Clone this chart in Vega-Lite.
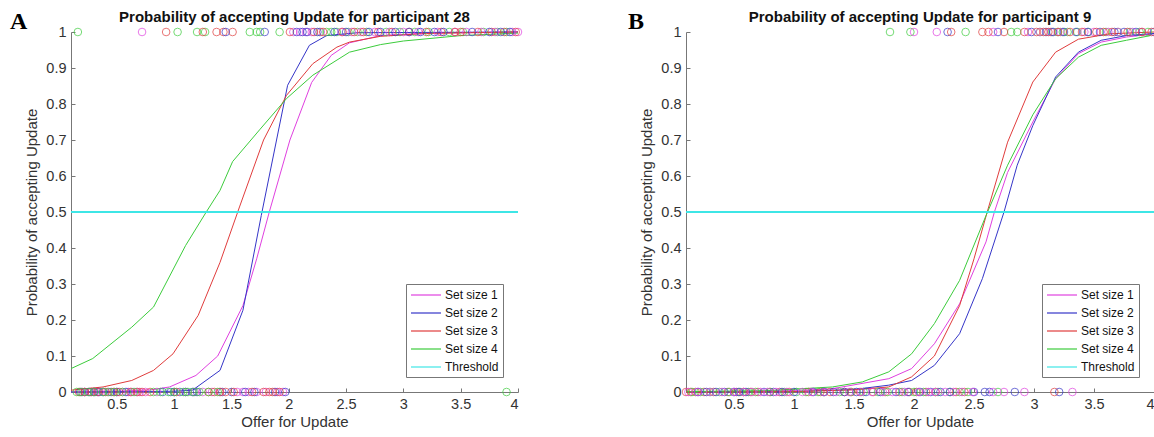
{
  "$schema": "https://vega.github.io/schema/vega-lite/v6.json",
  "autosize": {"type": "pad"},
  "padding": {"left": 10, "top": 10, "right": 0, "bottom": 0},
  "background": "white",
  "config": {
    "view": {"stroke": null},
    "font": "Liberation Sans",
    "axis": {
      "labelFont": "Liberation Sans", "labelFontSize": 14.5, "labelColor": "#333", "labelOverlap": false,
      "titleFont": "Liberation Sans", "titleFontSize": 15, "titleFontWeight": "normal", "titleColor": "#333",
      "domainColor": "#777", "tickColor": "#777", "tickSize": -4, "labelPadding": 9, "grid": false
    },
    "legend": {
      "orient": "bottom-right", "offset": 15, "title": null,
      "symbolType": "M-1,0H4", "symbolSize": 144, "symbolStrokeWidth": 1.2,
      "labelFont": "Liberation Sans", "labelFontSize": 12, "labelColor": "#111", "labelOffset": 21,
      "strokeColor": "#777", "fillColor": "white", "padding": 4, "rowPadding": 5, "cornerRadius": 0
    }
  },
  "datasets": {
    "curvesA": [
      {"set": "Set size 1", "x": 0.1, "p": 0.0}, {"set": "Set size 1", "x": 0.5, "p": 0.002}, {"set": "Set size 1", "x": 0.8, "p": 0.006}, {"set": "Set size 1", "x": 0.96, "p": 0.014}, {"set": "Set size 1", "x": 1.19, "p": 0.046}, {"set": "Set size 1", "x": 1.38, "p": 0.1}, {"set": "Set size 1", "x": 1.6, "p": 0.24}, {"set": "Set size 1", "x": 1.72, "p": 0.37}, {"set": "Set size 1", "x": 1.83, "p": 0.5}, {"set": "Set size 1", "x": 2.01, "p": 0.7}, {"set": "Set size 1", "x": 2.2, "p": 0.86}, {"set": "Set size 1", "x": 2.37, "p": 0.935}, {"set": "Set size 1", "x": 2.53, "p": 0.97}, {"set": "Set size 1", "x": 2.8, "p": 0.99}, {"set": "Set size 1", "x": 3.2, "p": 0.997}, {"set": "Set size 1", "x": 4.0, "p": 1.0},
      {"set": "Set size 2", "x": 0.1, "p": 0.0}, {"set": "Set size 2", "x": 1.0, "p": 0.002}, {"set": "Set size 2", "x": 1.16, "p": 0.005}, {"set": "Set size 2", "x": 1.4, "p": 0.06}, {"set": "Set size 2", "x": 1.6, "p": 0.227}, {"set": "Set size 2", "x": 1.76, "p": 0.49}, {"set": "Set size 2", "x": 1.99, "p": 0.852}, {"set": "Set size 2", "x": 2.18, "p": 0.963}, {"set": "Set size 2", "x": 2.33, "p": 0.99}, {"set": "Set size 2", "x": 2.6, "p": 0.998}, {"set": "Set size 2", "x": 4.0, "p": 1.0},
      {"set": "Set size 3", "x": 0.1, "p": 0.005}, {"set": "Set size 3", "x": 0.38, "p": 0.014}, {"set": "Set size 3", "x": 0.63, "p": 0.032}, {"set": "Set size 3", "x": 0.82, "p": 0.06}, {"set": "Set size 3", "x": 0.99, "p": 0.106}, {"set": "Set size 3", "x": 1.21, "p": 0.213}, {"set": "Set size 3", "x": 1.4, "p": 0.36}, {"set": "Set size 3", "x": 1.57, "p": 0.514}, {"set": "Set size 3", "x": 1.78, "p": 0.7}, {"set": "Set size 3", "x": 1.98, "p": 0.824}, {"set": "Set size 3", "x": 2.21, "p": 0.912}, {"set": "Set size 3", "x": 2.42, "p": 0.958}, {"set": "Set size 3", "x": 2.53, "p": 0.972}, {"set": "Set size 3", "x": 2.8, "p": 0.988}, {"set": "Set size 3", "x": 3.2, "p": 0.996}, {"set": "Set size 3", "x": 4.0, "p": 1.0},
      {"set": "Set size 4", "x": 0.1, "p": 0.065}, {"set": "Set size 4", "x": 0.29, "p": 0.093}, {"set": "Set size 4", "x": 0.63, "p": 0.18}, {"set": "Set size 4", "x": 0.82, "p": 0.236}, {"set": "Set size 4", "x": 1.1, "p": 0.407}, {"set": "Set size 4", "x": 1.28, "p": 0.5}, {"set": "Set size 4", "x": 1.4, "p": 0.56}, {"set": "Set size 4", "x": 1.51, "p": 0.64}, {"set": "Set size 4", "x": 1.75, "p": 0.73}, {"set": "Set size 4", "x": 1.98, "p": 0.815}, {"set": "Set size 4", "x": 2.21, "p": 0.88}, {"set": "Set size 4", "x": 2.53, "p": 0.944}, {"set": "Set size 4", "x": 2.8, "p": 0.965}, {"set": "Set size 4", "x": 3.0, "p": 0.975}, {"set": "Set size 4", "x": 3.5, "p": 0.99}, {"set": "Set size 4", "x": 4.0, "p": 0.997},
      {"set": "Threshold", "x": 0.1, "p": 0.5}, {"set": "Threshold", "x": 4.0, "p": 0.5}
    ],
    "pointsA": [
      {"set": "Set size 4", "x": 0.16, "p": 1}, {"set": "Set size 4", "x": 1.03, "p": 1}, {"set": "Set size 4", "x": 1.2, "p": 1}, {"set": "Set size 4", "x": 1.27, "p": 1}, {"set": "Set size 4", "x": 1.66, "p": 1}, {"set": "Set size 4", "x": 1.72, "p": 1}, {"set": "Set size 4", "x": 1.75, "p": 1}, {"set": "Set size 4", "x": 1.92, "p": 1}, {"set": "Set size 4", "x": 2.27, "p": 1}, {"set": "Set size 4", "x": 2.33, "p": 1}, {"set": "Set size 4", "x": 2.37, "p": 1}, {"set": "Set size 4", "x": 2.42, "p": 1}, {"set": "Set size 4", "x": 2.52, "p": 1}, {"set": "Set size 4", "x": 2.6, "p": 1}, {"set": "Set size 4", "x": 2.68, "p": 1}, {"set": "Set size 4", "x": 2.85, "p": 1}, {"set": "Set size 4", "x": 2.97, "p": 1}, {"set": "Set size 4", "x": 3.1, "p": 1}, {"set": "Set size 4", "x": 3.22, "p": 1}, {"set": "Set size 4", "x": 3.4, "p": 1}, {"set": "Set size 4", "x": 3.52, "p": 1}, {"set": "Set size 4", "x": 3.7, "p": 1}, {"set": "Set size 4", "x": 3.82, "p": 1}, {"set": "Set size 4", "x": 3.9, "p": 1},
      {"set": "Set size 1", "x": 0.72, "p": 1}, {"set": "Set size 1", "x": 2.04, "p": 1}, {"set": "Set size 1", "x": 2.1, "p": 1}, {"set": "Set size 1", "x": 2.15, "p": 1}, {"set": "Set size 1", "x": 2.2, "p": 1}, {"set": "Set size 1", "x": 2.28, "p": 1}, {"set": "Set size 1", "x": 2.46, "p": 1}, {"set": "Set size 1", "x": 2.55, "p": 1}, {"set": "Set size 1", "x": 2.63, "p": 1}, {"set": "Set size 1", "x": 2.75, "p": 1}, {"set": "Set size 1", "x": 2.88, "p": 1}, {"set": "Set size 1", "x": 3.0, "p": 1}, {"set": "Set size 1", "x": 3.13, "p": 1}, {"set": "Set size 1", "x": 3.3, "p": 1}, {"set": "Set size 1", "x": 3.45, "p": 1}, {"set": "Set size 1", "x": 3.55, "p": 1}, {"set": "Set size 1", "x": 3.68, "p": 1}, {"set": "Set size 1", "x": 3.8, "p": 1}, {"set": "Set size 1", "x": 3.95, "p": 1}, {"set": "Set size 1", "x": 4.0, "p": 1},
      {"set": "Set size 3", "x": 0.93, "p": 1}, {"set": "Set size 3", "x": 1.25, "p": 1}, {"set": "Set size 3", "x": 1.37, "p": 1}, {"set": "Set size 3", "x": 1.43, "p": 1}, {"set": "Set size 3", "x": 1.51, "p": 1}, {"set": "Set size 3", "x": 2.01, "p": 1}, {"set": "Set size 3", "x": 2.22, "p": 1}, {"set": "Set size 3", "x": 2.3, "p": 1}, {"set": "Set size 3", "x": 2.47, "p": 1}, {"set": "Set size 3", "x": 2.57, "p": 1}, {"set": "Set size 3", "x": 2.65, "p": 1}, {"set": "Set size 3", "x": 2.78, "p": 1}, {"set": "Set size 3", "x": 2.9, "p": 1}, {"set": "Set size 3", "x": 3.05, "p": 1}, {"set": "Set size 3", "x": 3.2, "p": 1}, {"set": "Set size 3", "x": 3.33, "p": 1}, {"set": "Set size 3", "x": 3.45, "p": 1}, {"set": "Set size 3", "x": 3.5, "p": 1}, {"set": "Set size 3", "x": 3.65, "p": 1}, {"set": "Set size 3", "x": 3.77, "p": 1}, {"set": "Set size 3", "x": 3.88, "p": 1}, {"set": "Set size 3", "x": 3.98, "p": 1},
      {"set": "Set size 2", "x": 1.45, "p": 1}, {"set": "Set size 2", "x": 1.79, "p": 1}, {"set": "Set size 2", "x": 2.07, "p": 1}, {"set": "Set size 2", "x": 2.12, "p": 1}, {"set": "Set size 2", "x": 2.16, "p": 1}, {"set": "Set size 2", "x": 2.25, "p": 1}, {"set": "Set size 2", "x": 2.4, "p": 1}, {"set": "Set size 2", "x": 2.5, "p": 1}, {"set": "Set size 2", "x": 2.7, "p": 1}, {"set": "Set size 2", "x": 2.8, "p": 1}, {"set": "Set size 2", "x": 2.93, "p": 1}, {"set": "Set size 2", "x": 3.05, "p": 1}, {"set": "Set size 2", "x": 3.15, "p": 1}, {"set": "Set size 2", "x": 3.27, "p": 1}, {"set": "Set size 2", "x": 3.35, "p": 1}, {"set": "Set size 2", "x": 3.6, "p": 1}, {"set": "Set size 2", "x": 3.75, "p": 1}, {"set": "Set size 2", "x": 3.85, "p": 1}, {"set": "Set size 2", "x": 3.93, "p": 1},
      {"set": "Set size 1", "x": 0.2, "p": 0}, {"set": "Set size 1", "x": 0.27, "p": 0}, {"set": "Set size 1", "x": 0.31, "p": 0}, {"set": "Set size 1", "x": 0.35, "p": 0}, {"set": "Set size 1", "x": 0.42, "p": 0}, {"set": "Set size 1", "x": 0.5, "p": 0}, {"set": "Set size 1", "x": 0.55, "p": 0}, {"set": "Set size 1", "x": 0.6, "p": 0}, {"set": "Set size 1", "x": 0.63, "p": 0}, {"set": "Set size 1", "x": 0.67, "p": 0}, {"set": "Set size 1", "x": 0.7, "p": 0}, {"set": "Set size 1", "x": 0.75, "p": 0}, {"set": "Set size 1", "x": 0.85, "p": 0}, {"set": "Set size 1", "x": 1.1, "p": 0}, {"set": "Set size 1", "x": 1.18, "p": 0}, {"set": "Set size 1", "x": 1.25, "p": 0}, {"set": "Set size 1", "x": 1.33, "p": 0}, {"set": "Set size 1", "x": 1.4, "p": 0}, {"set": "Set size 1", "x": 1.55, "p": 0}, {"set": "Set size 1", "x": 1.6, "p": 0}, {"set": "Set size 1", "x": 1.65, "p": 0}, {"set": "Set size 1", "x": 1.72, "p": 0}, {"set": "Set size 1", "x": 1.8, "p": 0}, {"set": "Set size 1", "x": 1.9, "p": 0}, {"set": "Set size 1", "x": 1.95, "p": 0},
      {"set": "Set size 2", "x": 0.18, "p": 0}, {"set": "Set size 2", "x": 0.22, "p": 0}, {"set": "Set size 2", "x": 0.26, "p": 0}, {"set": "Set size 2", "x": 0.3, "p": 0}, {"set": "Set size 2", "x": 0.34, "p": 0}, {"set": "Set size 2", "x": 0.38, "p": 0}, {"set": "Set size 2", "x": 0.45, "p": 0}, {"set": "Set size 2", "x": 0.5, "p": 0}, {"set": "Set size 2", "x": 0.58, "p": 0}, {"set": "Set size 2", "x": 0.9, "p": 0}, {"set": "Set size 2", "x": 0.97, "p": 0}, {"set": "Set size 2", "x": 1.0, "p": 0}, {"set": "Set size 2", "x": 1.05, "p": 0}, {"set": "Set size 2", "x": 1.1, "p": 0}, {"set": "Set size 2", "x": 1.16, "p": 0}, {"set": "Set size 2", "x": 1.2, "p": 0}, {"set": "Set size 2", "x": 1.42, "p": 0}, {"set": "Set size 2", "x": 1.5, "p": 0}, {"set": "Set size 2", "x": 1.62, "p": 0}, {"set": "Set size 2", "x": 1.7, "p": 0}, {"set": "Set size 2", "x": 1.88, "p": 0}, {"set": "Set size 2", "x": 1.97, "p": 0},
      {"set": "Set size 3", "x": 0.17, "p": 0}, {"set": "Set size 3", "x": 0.22, "p": 0}, {"set": "Set size 3", "x": 0.28, "p": 0}, {"set": "Set size 3", "x": 0.33, "p": 0}, {"set": "Set size 3", "x": 0.4, "p": 0}, {"set": "Set size 3", "x": 0.47, "p": 0}, {"set": "Set size 3", "x": 0.52, "p": 0}, {"set": "Set size 3", "x": 0.62, "p": 0}, {"set": "Set size 3", "x": 0.68, "p": 0}, {"set": "Set size 3", "x": 0.72, "p": 0}, {"set": "Set size 3", "x": 0.79, "p": 0}, {"set": "Set size 3", "x": 1.02, "p": 0}, {"set": "Set size 3", "x": 1.3, "p": 0}, {"set": "Set size 3", "x": 1.35, "p": 0}, {"set": "Set size 3", "x": 1.4, "p": 0}, {"set": "Set size 3", "x": 1.45, "p": 0}, {"set": "Set size 3", "x": 1.52, "p": 0}, {"set": "Set size 3", "x": 1.68, "p": 0}, {"set": "Set size 3", "x": 1.78, "p": 0}, {"set": "Set size 3", "x": 1.83, "p": 0}, {"set": "Set size 3", "x": 1.86, "p": 0}, {"set": "Set size 3", "x": 1.92, "p": 0},
      {"set": "Set size 4", "x": 0.15, "p": 0}, {"set": "Set size 4", "x": 0.19, "p": 0}, {"set": "Set size 4", "x": 0.25, "p": 0}, {"set": "Set size 4", "x": 0.3, "p": 0}, {"set": "Set size 4", "x": 0.38, "p": 0}, {"set": "Set size 4", "x": 0.43, "p": 0}, {"set": "Set size 4", "x": 0.48, "p": 0}, {"set": "Set size 4", "x": 0.55, "p": 0}, {"set": "Set size 4", "x": 0.65, "p": 0}, {"set": "Set size 4", "x": 0.82, "p": 0}, {"set": "Set size 4", "x": 0.88, "p": 0}, {"set": "Set size 4", "x": 0.95, "p": 0}, {"set": "Set size 4", "x": 1.0, "p": 0}, {"set": "Set size 4", "x": 1.08, "p": 0}, {"set": "Set size 4", "x": 1.12, "p": 0}, {"set": "Set size 4", "x": 1.17, "p": 0}, {"set": "Set size 4", "x": 1.22, "p": 0}, {"set": "Set size 4", "x": 1.3, "p": 0}, {"set": "Set size 4", "x": 1.38, "p": 0}, {"set": "Set size 4", "x": 3.9, "p": 0}
    ],
    "curvesB": [
      {"set": "Set size 1", "x": 0.1, "p": 0.0}, {"set": "Set size 1", "x": 0.8, "p": 0.002}, {"set": "Set size 1", "x": 1.3, "p": 0.008}, {"set": "Set size 1", "x": 1.79, "p": 0.037}, {"set": "Set size 1", "x": 1.98, "p": 0.065}, {"set": "Set size 1", "x": 2.17, "p": 0.134}, {"set": "Set size 1", "x": 2.38, "p": 0.245}, {"set": "Set size 1", "x": 2.6, "p": 0.417}, {"set": "Set size 1", "x": 2.67, "p": 0.5}, {"set": "Set size 1", "x": 2.78, "p": 0.61}, {"set": "Set size 1", "x": 2.99, "p": 0.75}, {"set": "Set size 1", "x": 3.18, "p": 0.87}, {"set": "Set size 1", "x": 3.37, "p": 0.94}, {"set": "Set size 1", "x": 3.56, "p": 0.972}, {"set": "Set size 1", "x": 3.77, "p": 0.986}, {"set": "Set size 1", "x": 4.0, "p": 0.995},
      {"set": "Set size 2", "x": 0.1, "p": 0.0}, {"set": "Set size 2", "x": 1.0, "p": 0.001}, {"set": "Set size 2", "x": 1.5, "p": 0.007}, {"set": "Set size 2", "x": 1.79, "p": 0.019}, {"set": "Set size 2", "x": 1.98, "p": 0.032}, {"set": "Set size 2", "x": 2.17, "p": 0.074}, {"set": "Set size 2", "x": 2.38, "p": 0.162}, {"set": "Set size 2", "x": 2.57, "p": 0.315}, {"set": "Set size 2", "x": 2.75, "p": 0.5}, {"set": "Set size 2", "x": 2.86, "p": 0.63}, {"set": "Set size 2", "x": 2.99, "p": 0.74}, {"set": "Set size 2", "x": 3.18, "p": 0.875}, {"set": "Set size 2", "x": 3.37, "p": 0.944}, {"set": "Set size 2", "x": 3.56, "p": 0.977}, {"set": "Set size 2", "x": 3.77, "p": 0.99}, {"set": "Set size 2", "x": 4.0, "p": 0.996},
      {"set": "Set size 3", "x": 0.1, "p": 0.0}, {"set": "Set size 3", "x": 1.0, "p": 0.001}, {"set": "Set size 3", "x": 1.5, "p": 0.006}, {"set": "Set size 3", "x": 1.79, "p": 0.014}, {"set": "Set size 3", "x": 1.98, "p": 0.042}, {"set": "Set size 3", "x": 2.17, "p": 0.1}, {"set": "Set size 3", "x": 2.38, "p": 0.24}, {"set": "Set size 3", "x": 2.5, "p": 0.37}, {"set": "Set size 3", "x": 2.61, "p": 0.5}, {"set": "Set size 3", "x": 2.78, "p": 0.694}, {"set": "Set size 3", "x": 2.99, "p": 0.861}, {"set": "Set size 3", "x": 3.18, "p": 0.944}, {"set": "Set size 3", "x": 3.37, "p": 0.98}, {"set": "Set size 3", "x": 3.63, "p": 0.995}, {"set": "Set size 3", "x": 4.0, "p": 1.0},
      {"set": "Set size 4", "x": 0.1, "p": 0.001}, {"set": "Set size 4", "x": 0.8, "p": 0.004}, {"set": "Set size 4", "x": 1.32, "p": 0.014}, {"set": "Set size 4", "x": 1.57, "p": 0.028}, {"set": "Set size 4", "x": 1.79, "p": 0.056}, {"set": "Set size 4", "x": 1.98, "p": 0.106}, {"set": "Set size 4", "x": 2.17, "p": 0.19}, {"set": "Set size 4", "x": 2.38, "p": 0.31}, {"set": "Set size 4", "x": 2.6, "p": 0.49}, {"set": "Set size 4", "x": 2.78, "p": 0.63}, {"set": "Set size 4", "x": 2.99, "p": 0.77}, {"set": "Set size 4", "x": 3.18, "p": 0.87}, {"set": "Set size 4", "x": 3.37, "p": 0.93}, {"set": "Set size 4", "x": 3.56, "p": 0.963}, {"set": "Set size 4", "x": 3.77, "p": 0.977}, {"set": "Set size 4", "x": 3.97, "p": 0.99},
      {"set": "Threshold", "x": 0.1, "p": 0.5}, {"set": "Threshold", "x": 4.0, "p": 0.5}
    ],
    "pointsB": [
      {"set": "Set size 4", "x": 1.8, "p": 1}, {"set": "Set size 4", "x": 1.97, "p": 1}, {"set": "Set size 4", "x": 2.43, "p": 1}, {"set": "Set size 4", "x": 2.81, "p": 1}, {"set": "Set size 4", "x": 2.86, "p": 1}, {"set": "Set size 4", "x": 3.05, "p": 1}, {"set": "Set size 4", "x": 3.15, "p": 1}, {"set": "Set size 4", "x": 3.2, "p": 1}, {"set": "Set size 4", "x": 3.24, "p": 1}, {"set": "Set size 4", "x": 3.28, "p": 1}, {"set": "Set size 4", "x": 3.36, "p": 1}, {"set": "Set size 4", "x": 3.45, "p": 1}, {"set": "Set size 4", "x": 3.6, "p": 1}, {"set": "Set size 4", "x": 3.7, "p": 1}, {"set": "Set size 4", "x": 3.8, "p": 1}, {"set": "Set size 4", "x": 3.88, "p": 1}, {"set": "Set size 4", "x": 3.95, "p": 1},
      {"set": "Set size 1", "x": 2.0, "p": 1}, {"set": "Set size 1", "x": 2.19, "p": 1}, {"set": "Set size 1", "x": 2.66, "p": 1}, {"set": "Set size 1", "x": 2.95, "p": 1}, {"set": "Set size 1", "x": 3.05, "p": 1}, {"set": "Set size 1", "x": 3.14, "p": 1}, {"set": "Set size 1", "x": 3.22, "p": 1}, {"set": "Set size 1", "x": 3.42, "p": 1}, {"set": "Set size 1", "x": 3.5, "p": 1}, {"set": "Set size 1", "x": 3.62, "p": 1}, {"set": "Set size 1", "x": 3.7, "p": 1}, {"set": "Set size 1", "x": 3.82, "p": 1}, {"set": "Set size 1", "x": 3.9, "p": 1},
      {"set": "Set size 2", "x": 2.28, "p": 1}, {"set": "Set size 2", "x": 2.7, "p": 1}, {"set": "Set size 2", "x": 2.98, "p": 1}, {"set": "Set size 2", "x": 3.1, "p": 1}, {"set": "Set size 2", "x": 3.16, "p": 1}, {"set": "Set size 2", "x": 3.25, "p": 1}, {"set": "Set size 2", "x": 3.35, "p": 1}, {"set": "Set size 2", "x": 3.45, "p": 1}, {"set": "Set size 2", "x": 3.55, "p": 1}, {"set": "Set size 2", "x": 3.67, "p": 1}, {"set": "Set size 2", "x": 3.75, "p": 1}, {"set": "Set size 2", "x": 3.85, "p": 1}, {"set": "Set size 2", "x": 4.0, "p": 1},
      {"set": "Set size 3", "x": 2.31, "p": 1}, {"set": "Set size 3", "x": 2.57, "p": 1}, {"set": "Set size 3", "x": 2.62, "p": 1}, {"set": "Set size 3", "x": 2.75, "p": 1}, {"set": "Set size 3", "x": 2.92, "p": 1}, {"set": "Set size 3", "x": 3.02, "p": 1}, {"set": "Set size 3", "x": 3.08, "p": 1}, {"set": "Set size 3", "x": 3.12, "p": 1}, {"set": "Set size 3", "x": 3.2, "p": 1}, {"set": "Set size 3", "x": 3.3, "p": 1}, {"set": "Set size 3", "x": 3.4, "p": 1}, {"set": "Set size 3", "x": 3.52, "p": 1}, {"set": "Set size 3", "x": 3.58, "p": 1}, {"set": "Set size 3", "x": 3.65, "p": 1}, {"set": "Set size 3", "x": 3.78, "p": 1}, {"set": "Set size 3", "x": 3.9, "p": 1}, {"set": "Set size 3", "x": 3.98, "p": 1},
      {"set": "Set size 3", "x": 0.1, "p": 0}, {"set": "Set size 3", "x": 0.14, "p": 0}, {"set": "Set size 3", "x": 0.18, "p": 0}, {"set": "Set size 3", "x": 0.25, "p": 0}, {"set": "Set size 3", "x": 0.33, "p": 0}, {"set": "Set size 3", "x": 0.45, "p": 0}, {"set": "Set size 3", "x": 0.52, "p": 0}, {"set": "Set size 3", "x": 0.58, "p": 0}, {"set": "Set size 3", "x": 0.64, "p": 0}, {"set": "Set size 3", "x": 0.7, "p": 0}, {"set": "Set size 3", "x": 0.8, "p": 0}, {"set": "Set size 3", "x": 0.88, "p": 0}, {"set": "Set size 3", "x": 0.96, "p": 0}, {"set": "Set size 3", "x": 1.12, "p": 0}, {"set": "Set size 3", "x": 1.22, "p": 0}, {"set": "Set size 3", "x": 1.3, "p": 0}, {"set": "Set size 3", "x": 1.42, "p": 0}, {"set": "Set size 3", "x": 1.48, "p": 0}, {"set": "Set size 3", "x": 1.55, "p": 0}, {"set": "Set size 3", "x": 1.66, "p": 0}, {"set": "Set size 3", "x": 1.76, "p": 0}, {"set": "Set size 3", "x": 1.88, "p": 0}, {"set": "Set size 3", "x": 1.96, "p": 0}, {"set": "Set size 3", "x": 2.02, "p": 0}, {"set": "Set size 3", "x": 2.1, "p": 0}, {"set": "Set size 3", "x": 2.18, "p": 0}, {"set": "Set size 3", "x": 2.35, "p": 0}, {"set": "Set size 3", "x": 2.42, "p": 0}, {"set": "Set size 3", "x": 3.17, "p": 0},
      {"set": "Set size 4", "x": 0.15, "p": 0}, {"set": "Set size 4", "x": 0.22, "p": 0}, {"set": "Set size 4", "x": 0.3, "p": 0}, {"set": "Set size 4", "x": 0.38, "p": 0}, {"set": "Set size 4", "x": 0.46, "p": 0}, {"set": "Set size 4", "x": 0.55, "p": 0}, {"set": "Set size 4", "x": 0.62, "p": 0}, {"set": "Set size 4", "x": 0.68, "p": 0}, {"set": "Set size 4", "x": 0.8, "p": 0}, {"set": "Set size 4", "x": 0.92, "p": 0}, {"set": "Set size 4", "x": 1.02, "p": 0}, {"set": "Set size 4", "x": 1.1, "p": 0}, {"set": "Set size 4", "x": 1.2, "p": 0}, {"set": "Set size 4", "x": 1.25, "p": 0}, {"set": "Set size 4", "x": 1.38, "p": 0}, {"set": "Set size 4", "x": 1.47, "p": 0}, {"set": "Set size 4", "x": 1.58, "p": 0}, {"set": "Set size 4", "x": 1.7, "p": 0}, {"set": "Set size 4", "x": 1.78, "p": 0}, {"set": "Set size 4", "x": 1.9, "p": 0}, {"set": "Set size 4", "x": 2.0, "p": 0}, {"set": "Set size 4", "x": 2.08, "p": 0}, {"set": "Set size 4", "x": 2.2, "p": 0}, {"set": "Set size 4", "x": 2.3, "p": 0}, {"set": "Set size 4", "x": 2.38, "p": 0}, {"set": "Set size 4", "x": 2.45, "p": 0}, {"set": "Set size 4", "x": 2.7, "p": 0},
      {"set": "Set size 2", "x": 0.2, "p": 0}, {"set": "Set size 2", "x": 0.27, "p": 0}, {"set": "Set size 2", "x": 0.35, "p": 0}, {"set": "Set size 2", "x": 0.42, "p": 0}, {"set": "Set size 2", "x": 0.5, "p": 0}, {"set": "Set size 2", "x": 0.54, "p": 0}, {"set": "Set size 2", "x": 0.6, "p": 0}, {"set": "Set size 2", "x": 0.75, "p": 0}, {"set": "Set size 2", "x": 0.83, "p": 0}, {"set": "Set size 2", "x": 0.9, "p": 0}, {"set": "Set size 2", "x": 1.0, "p": 0}, {"set": "Set size 2", "x": 1.16, "p": 0}, {"set": "Set size 2", "x": 1.25, "p": 0}, {"set": "Set size 2", "x": 1.33, "p": 0}, {"set": "Set size 2", "x": 1.42, "p": 0}, {"set": "Set size 2", "x": 1.52, "p": 0}, {"set": "Set size 2", "x": 1.6, "p": 0}, {"set": "Set size 2", "x": 1.72, "p": 0}, {"set": "Set size 2", "x": 1.85, "p": 0}, {"set": "Set size 2", "x": 1.95, "p": 0}, {"set": "Set size 2", "x": 2.05, "p": 0}, {"set": "Set size 2", "x": 2.14, "p": 0}, {"set": "Set size 2", "x": 2.22, "p": 0}, {"set": "Set size 2", "x": 2.3, "p": 0}, {"set": "Set size 2", "x": 2.5, "p": 0}, {"set": "Set size 2", "x": 2.59, "p": 0}, {"set": "Set size 2", "x": 2.63, "p": 0}, {"set": "Set size 2", "x": 2.84, "p": 0}, {"set": "Set size 2", "x": 3.21, "p": 0},
      {"set": "Set size 1", "x": 0.12, "p": 0}, {"set": "Set size 1", "x": 0.2, "p": 0}, {"set": "Set size 1", "x": 0.3, "p": 0}, {"set": "Set size 1", "x": 0.4, "p": 0}, {"set": "Set size 1", "x": 0.5, "p": 0}, {"set": "Set size 1", "x": 0.58, "p": 0}, {"set": "Set size 1", "x": 0.65, "p": 0}, {"set": "Set size 1", "x": 0.72, "p": 0}, {"set": "Set size 1", "x": 0.78, "p": 0}, {"set": "Set size 1", "x": 0.85, "p": 0}, {"set": "Set size 1", "x": 0.94, "p": 0}, {"set": "Set size 1", "x": 1.07, "p": 0}, {"set": "Set size 1", "x": 1.15, "p": 0}, {"set": "Set size 1", "x": 1.25, "p": 0}, {"set": "Set size 1", "x": 1.35, "p": 0}, {"set": "Set size 1", "x": 1.46, "p": 0}, {"set": "Set size 1", "x": 1.56, "p": 0}, {"set": "Set size 1", "x": 1.65, "p": 0}, {"set": "Set size 1", "x": 1.74, "p": 0}, {"set": "Set size 1", "x": 1.82, "p": 0}, {"set": "Set size 1", "x": 1.92, "p": 0}, {"set": "Set size 1", "x": 2.04, "p": 0}, {"set": "Set size 1", "x": 2.12, "p": 0}, {"set": "Set size 1", "x": 2.18, "p": 0}, {"set": "Set size 1", "x": 2.26, "p": 0}, {"set": "Set size 1", "x": 2.33, "p": 0}, {"set": "Set size 1", "x": 2.4, "p": 0}, {"set": "Set size 1", "x": 2.49, "p": 0}, {"set": "Set size 1", "x": 2.66, "p": 0}, {"set": "Set size 1", "x": 2.75, "p": 0}, {"set": "Set size 1", "x": 2.92, "p": 0}, {"set": "Set size 1", "x": 3.32, "p": 0}
    ],
    "labelA": [{"label": "A"}],
    "labelB": [{"label": "B"}]
  },
  "bounds": "flush",
  "spacing": 168,
  "resolve": {"scale": {"x": "independent", "y": "independent", "color": "independent", "stroke": "independent"}, "legend": {"color": "independent"}},
  "hconcat": [
    {
      "width": 447, "height": 360,
      "title": {"text": "Probability of accepting Update for participant 28", "font": "Liberation Sans", "fontSize": 15, "fontWeight": "bold", "color": "#111", "anchor": "middle", "baseline": "alphabetic", "offset": -27},
      "layer": [
        {
          "data": {"name": "curvesA"},
          "mark": {"type": "line", "clip": false},
          "encoding": {
            "x": {"field": "x", "type": "quantitative", "scale": {"domain": [0.1, 4], "nice": false, "zero": false},
                  "axis": {"values": [0.5, 1, 1.5, 2, 2.5, 3, 3.5, 4], "format": ".1~f", "title": "Offer for Update"}},
            "y": {"field": "p", "type": "quantitative", "scale": {"domain": [0, 1], "nice": false},
                  "axis": {"values": [0, 0.1, 0.2, 0.3, 0.4, 0.5, 0.6, 0.7, 0.8, 0.9, 1], "format": ".1~f", "title": "Probability of accepting Update", "titlePadding": 6}},
            "color": {"field": "set", "type": "nominal",
              "scale": {"domain": ["Set size 1", "Set size 2", "Set size 3", "Set size 4", "Threshold"], "range": ["#e040e0", "#3535c8", "#e03c3c", "#3ccc3c", "#3ee6e6"]}},
            "strokeWidth": {"condition": {"test": "datum.set === 'Threshold'", "value": 2}, "value": 1}
          }
        },
        {
          "data": {"name": "pointsA"},
          "mark": {"type": "point", "filled": false, "size": 58, "strokeWidth": 1},
          "encoding": {
            "x": {"field": "x", "type": "quantitative",
                  "axis": {"values": [0.5, 1, 1.5, 2, 2.5, 3, 3.5, 4], "format": ".1~f", "title": "Offer for Update"}},
            "y": {"field": "p", "type": "quantitative",
                  "axis": {"values": [0, 0.1, 0.2, 0.3, 0.4, 0.5, 0.6, 0.7, 0.8, 0.9, 1], "format": ".1~f", "title": "Probability of accepting Update", "titlePadding": 6}},
            "stroke": {"field": "set", "type": "nominal", "legend": null,
              "scale": {"domain": ["Set size 1", "Set size 2", "Set size 3", "Set size 4"], "range": ["#e040e0", "#3535c8", "#e03c3c", "#3ccc3c"]}}
          }
        },
        {
          "data": {"name": "labelA"},
          "mark": {"type": "text", "font": "Liberation Serif", "fontSize": 24, "fontWeight": "bold", "align": "left", "baseline": "top", "color": "#000"},
          "encoding": {
            "x": {"datum": -0.432, "axis": {"values": [0.5, 1, 1.5, 2, 2.5, 3, 3.5, 4], "format": ".1~f", "title": "Offer for Update"}},
            "y": {"datum": 1.061, "axis": {"values": [0, 0.1, 0.2, 0.3, 0.4, 0.5, 0.6, 0.7, 0.8, 0.9, 1], "format": ".1~f", "title": "Probability of accepting Update", "titlePadding": 6}},
            "text": {"field": "label"}
          }
        }
      ]
    },
    {
      "width": 468, "height": 360,
      "title": {"text": "Probability of accepting Update for participant 9", "font": "Liberation Sans", "fontSize": 15, "fontWeight": "bold", "color": "#111", "anchor": "middle", "baseline": "alphabetic", "offset": -27},
      "layer": [
        {
          "data": {"name": "curvesB"},
          "mark": {"type": "line", "clip": false},
          "encoding": {
            "x": {"field": "x", "type": "quantitative", "scale": {"domain": [0.1, 4], "nice": false, "zero": false},
                  "axis": {"values": [0.5, 1, 1.5, 2, 2.5, 3, 3.5, 4], "format": ".1~f", "title": "Offer for Update", "labelFlush": true}},
            "y": {"field": "p", "type": "quantitative", "scale": {"domain": [0, 1], "nice": false},
                  "axis": {"values": [0, 0.1, 0.2, 0.3, 0.4, 0.5, 0.6, 0.7, 0.8, 0.9, 1], "format": ".1~f", "title": "Probability of accepting Update", "titlePadding": 6}},
            "color": {"field": "set", "type": "nominal",
              "scale": {"domain": ["Set size 1", "Set size 2", "Set size 3", "Set size 4", "Threshold"], "range": ["#e040e0", "#3535c8", "#e03c3c", "#3ccc3c", "#3ee6e6"]}},
            "strokeWidth": {"condition": {"test": "datum.set === 'Threshold'", "value": 2}, "value": 1}
          }
        },
        {
          "data": {"name": "pointsB"},
          "mark": {"type": "point", "filled": false, "size": 58, "strokeWidth": 1},
          "encoding": {
            "x": {"field": "x", "type": "quantitative",
                  "axis": {"values": [0.5, 1, 1.5, 2, 2.5, 3, 3.5, 4], "format": ".1~f", "title": "Offer for Update", "labelFlush": true}},
            "y": {"field": "p", "type": "quantitative",
                  "axis": {"values": [0, 0.1, 0.2, 0.3, 0.4, 0.5, 0.6, 0.7, 0.8, 0.9, 1], "format": ".1~f", "title": "Probability of accepting Update", "titlePadding": 6}},
            "stroke": {"field": "set", "type": "nominal", "legend": null,
              "scale": {"domain": ["Set size 1", "Set size 2", "Set size 3", "Set size 4"], "range": ["#e040e0", "#3535c8", "#e03c3c", "#3ccc3c"]}}
          }
        },
        {
          "data": {"name": "labelB"},
          "mark": {"type": "text", "font": "Liberation Serif", "fontSize": 24, "fontWeight": "bold", "align": "left", "baseline": "top", "color": "#000"},
          "encoding": {
            "x": {"datum": -0.383, "axis": {"values": [0.5, 1, 1.5, 2, 2.5, 3, 3.5, 4], "format": ".1~f", "title": "Offer for Update", "labelFlush": true}},
            "y": {"datum": 1.061, "axis": {"values": [0, 0.1, 0.2, 0.3, 0.4, 0.5, 0.6, 0.7, 0.8, 0.9, 1], "format": ".1~f", "title": "Probability of accepting Update", "titlePadding": 6}},
            "text": {"field": "label"}
          }
        }
      ]
    }
  ]
}
